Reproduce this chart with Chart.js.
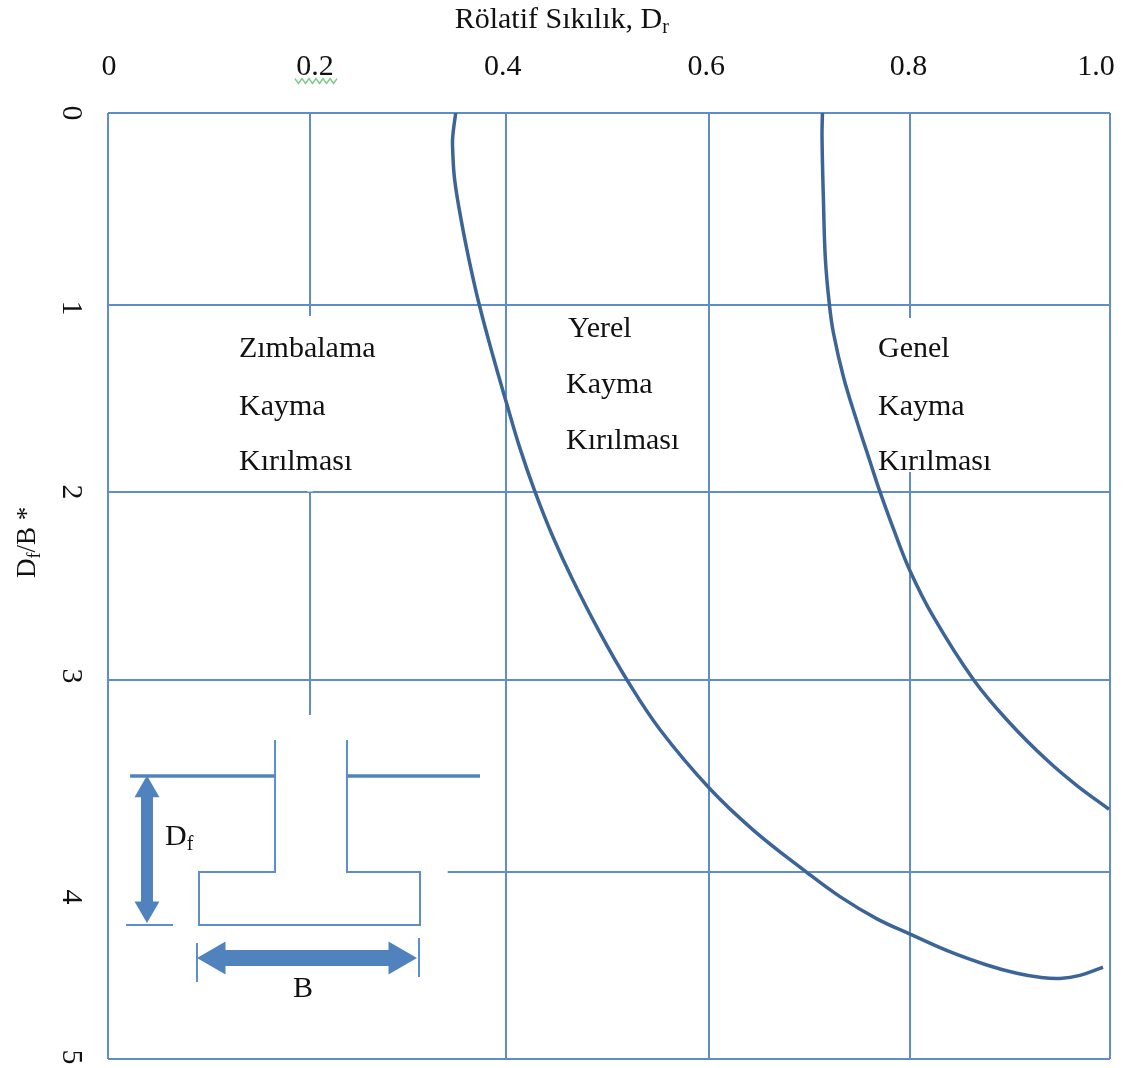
<!DOCTYPE html>
<html>
<head>
<meta charset="utf-8">
<style>
html,body{margin:0;padding:0;background:#fff;}
canvas{display:block;filter:blur(0.45px);}
</style>
<script src="https://cdn.jsdelivr.net/npm/chart.js@4"></script>
</head>
<body>
<canvas id="c" width="1129" height="1068"></canvas>
<script>
// Tick labels and where the reference prints them (data units)
const xTickLabels = ['0','0.2','0.4','0.6','0.8','1.0'];
const xTickLabelAt = [0.001,0.2066,0.394,0.597,0.799,0.986];
const yTickLabels = ['0','1','2','3','4','5'];
const yTickLabelAt = [0,1.03,2.003,2.976,4.144,4.99];
// Hand-drawn grid lines of the reference
const xGridAt = [0,0.2016,0.3972,0.5998,0.8004,1];
const yGridAt = [0,1.015,2.003,2.997,4.012,5];

// Boundary curves
const curveAx = [0.347,0.344,0.344,0.346,0.353,0.361,0.3706,0.3845,0.398,0.411,0.426,0.444,0.464,0.491,0.518,0.551,0.600,0.644,0.697,0.7305,0.767,0.800,0.840,0.877,0.907,0.930,0.950,0.970,0.993];
const curveAy = [0,0.127,0.196,0.354,0.581,0.793,1.015,1.290,1.538,1.770,2.000,2.240,2.470,2.748,2.997,3.260,3.568,3.790,4.012,4.142,4.258,4.339,4.433,4.503,4.547,4.568,4.574,4.558,4.515];
const curveBx = [0.713,0.7126,0.714,0.716,0.720,0.724,0.734,0.747,0.760,0.769,0.784,0.800,0.824,0.864,0.900,0.937,0.967,0.999];
const curveBy = [0,0.127,0.460,0.777,1.015,1.163,1.395,1.623,1.834,1.980,2.200,2.415,2.665,2.997,3.224,3.420,3.555,3.680];

// Footing sketch
const footingX = [0.1667,0.1667,0.0908,0.0908,0.3114,0.3114,0.2385,0.2385];
const footingY = [3.314,4.012,4.012,4.292,4.292,4.012,4.012,3.314];
const groundLeftX = [0.022,0.1667];
const groundRightX = [0.2385,0.3713];
const groundY = [3.504,3.504];
const baseTickX = [0.018,0.0649];
const baseTickY = [4.292,4.292];
const dfArrowX = [0.0389,0.0389];
const dfArrowY = [3.578,4.205];
const bArrowX = [0.1078,0.2894];
const bArrowY = [4.466,4.466];
const bTickLeftX = [0.0888,0.0888];
const bTickLeftY = [4.387,4.593];
const bTickRightX = [0.3104,0.3104];
const bTickRightY = [4.360,4.567];

// Places where the reference's grid is interrupted
const gapAx = [0.2016,0.2016]; const gapAy = [1.073,2.0];
const gapBx = [0.2016,0.2016]; const gapBy = [3.182,4.995];
const gapCx = [0.8004,0.8004]; const gapCy = [1.083,1.897];
const gapDx = [0.001,0.339];   const gapDy = [4.012,4.012];

// Spell-check squiggle under 0.2
const squiggleX = [0.1866,0.1901,0.1936,0.1971,0.2006,0.2041,0.2076,0.2111,0.2146,0.2181,0.2216,0.2251,0.2285];
const squiggleY = [-0.182,-0.156,-0.182,-0.156,-0.182,-0.156,-0.182,-0.156,-0.182,-0.156,-0.182,-0.156,-0.182];

// Text labels
const noteText = ['Zımbalama','Kayma','Kırılması','Yerel','Kayma','Kırılması','Genel','Kayma','Kırılması','D','B','Rölatif Sıkılık, D','D'];
const noteSub  = ['','','','','','','','','','f','','r','f/B *'];
const noteX = [0.1307,0.1307,0.1307,0.4591,0.4571,0.4571,0.7685,0.7685,0.7685,0.0569,0.1846,0.346,-0.0729];
const noteY = [1.29,1.596,1.887,1.184,1.48,1.776,1.29,1.596,1.887,3.869,4.672,-0.45,2.458];

const FONT = '"Liberation Serif","Times New Roman",serif';
const GRID = '#5f8dc9';
const CURVE = '#3c6597';
const SKETCH = '#5f8dc9';
const THICK = '#5083bd';

function pts(xs, ys){ return xs.map((x,i)=>({x, y:ys[i]})); }
function line(xs, ys, color, width, order, extra){
  return Object.assign({data:pts(xs,ys), showLine:true, borderColor:color, backgroundColor:color,
    borderWidth:width, pointRadius:0, order, clip:false}, extra||{});
}
function noPad(s){ s.paddingLeft=0; s.paddingRight=0; s.paddingTop=0; s.paddingBottom=0; }

const notesPlugin = {
  id:'notes',
  afterDatasetsDraw(chart){
    const ctx = chart.ctx, sx = chart.scales.x, sy = chart.scales.y;
    noteText.forEach((t,i)=>{
      const px = sx.getPixelForValue(noteX[i]), py = sy.getPixelForValue(noteY[i]);
      const sub = noteSub[i];
      const vertical = i === noteText.length-1;
      const big = vertical ? 27 : 30, small = vertical ? 18 : 20;
      ctx.save();
      ctx.translate(px,py);
      if (vertical) ctx.rotate(-Math.PI/2);
      ctx.fillStyle = '#111';
      ctx.textBaseline = 'alphabetic';
      ctx.textAlign = 'left';
      ctx.font = big+'px '+FONT;
      ctx.fillText(t,0,0);
      const w = ctx.measureText(t).width;
      if (sub){
        ctx.font = small+'px '+FONT;
        ctx.fillText(sub[0],w,5);
        if (sub.length > 1){
          const w2 = ctx.measureText(sub[0]).width;
          ctx.font = big+'px '+FONT;
          ctx.fillText(sub.slice(1),w+w2,0);
        }
      }
      ctx.restore();
    });
  }
};

new Chart(document.getElementById('c'),{
  type:'scatter',
  plugins:[notesPlugin],
  data:{datasets:[
    line(gapAx,gapAy,'#fff',6,5),
    line(gapBx,gapBy,'#fff',6,5),
    line(gapCx,gapCy,'#fff',6,5),
    line(gapDx,gapDy,'#fff',6,5),
    line(curveAx,curveAy,CURVE,3.5,1,{tension:0.4,clip:true}),
    line(curveBx,curveBy,CURVE,3.5,1,{tension:0.4,clip:true}),
    line(footingX,footingY,SKETCH,2,2),
    line(groundLeftX,groundY,THICK,3.5,2),
    line(groundRightX,groundY,THICK,3.5,2),
    line(baseTickX,baseTickY,SKETCH,2,2),
    line(dfArrowX,dfArrowY,THICK,12,2,{pointRadius:14.4,pointStyle:'triangle',pointRotation:[0,180],pointBorderWidth:0,pointBackgroundColor:THICK}),
    line(bArrowX,bArrowY,THICK,16,2,{pointRadius:19,pointStyle:'triangle',pointRotation:[270,90],pointBorderWidth:0,pointBackgroundColor:THICK}),
    line(bTickLeftX,bTickLeftY,SKETCH,2,2),
    line(bTickRightX,bTickRightY,SKETCH,2,2),
    line(squiggleX,squiggleY,'#7fc98a',1.5,2)
  ]},
  options:{
    responsive:false,
    animation:false,
    layout:{autoPadding:false,padding:{top:0,left:0,right:19,bottom:9}},
    plugins:{legend:{display:false},tooltip:{enabled:false},title:{display:false}},
    scales:{
      x:{
        type:'linear',position:'top',min:0,max:1,
        afterBuildTicks(s){ s.ticks = xTickLabelAt.map(v=>({value:v})); },
        afterFit(s){ s.height = 113; noPad(s); },
        grid:{display:false,drawTicks:false},
        border:{display:false},
        ticks:{autoSkip:false,maxRotation:0,minRotation:0,padding:28,color:'#111',
          font:{family:FONT,size:30},
          callback(v,i){ return xTickLabels[i]; }}
      },
      xGrid:{
        type:'linear',position:'top',min:0,max:1,
        afterBuildTicks(s){ s.ticks = xGridAt.map(v=>({value:v})); },
        afterFit(s){ s.height = 0; noPad(s); },
        grid:{color:GRID,lineWidth:2,drawTicks:false},
        border:{display:false},
        ticks:{display:false}
      },
      y:{
        type:'linear',position:'left',min:0,max:5,reverse:true,
        afterBuildTicks(s){ s.ticks = yTickLabelAt.map(v=>({value:v})); },
        afterFit(s){ s.width = 108; noPad(s); },
        grid:{display:false,drawTicks:false},
        border:{display:false},
        ticks:{autoSkip:false,minRotation:-90,maxRotation:-90,padding:30,color:'#111',crossAlign:'center',
          font:{family:FONT,size:30},
          callback(v,i){ return yTickLabels[i]; }}
      },
      yGrid:{
        type:'linear',position:'left',min:0,max:5,reverse:true,
        afterBuildTicks(s){ s.ticks = yGridAt.map(v=>({value:v})); },
        afterFit(s){ s.width = 0; noPad(s); },
        grid:{color:GRID,lineWidth:2,drawTicks:false},
        border:{display:false},
        ticks:{display:false}
      }
    }
  }
});
</script>
</body>
</html>
